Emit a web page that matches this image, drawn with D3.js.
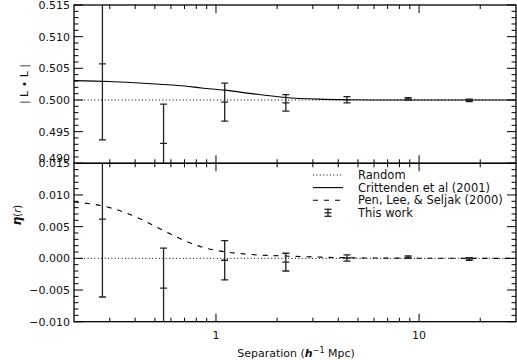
<!DOCTYPE html>
<html><head><meta charset="utf-8">
<script src="https://cdn.jsdelivr.net/npm/d3@7"></script>
<style>body{margin:0;background:#fff}svg{display:block}text{font-family:"DejaVu Sans",sans-serif;fill:#111}</style>
</head><body><svg id="c" width="517" height="360"></svg>
<script>
// data
const separation = [0.276, 0.552, 1.104, 2.208, 4.416, 8.832, 17.66];
const llValues = [0.50569, 0.49316, 0.49965, 0.49955, 0.50003, 0.50018, 0.49995];
const llErrors = [0.0120, 0.0062, 0.0030, 0.0013, 0.0005, 0.0002, 0.0002];
const etaValues = [0.0062, -0.0047, -0.0003, -0.0006, 0.00005, 0.0002, -0.0001];
const etaErrors = [0.0123, 0.0063, 0.0031, 0.0014, 0.0005, 0.0002, 0.0002];
const modelX = [0.2, 0.3, 0.4, 0.55, 0.7, 0.85, 1.1, 1.5, 2.2, 3.2, 4.4, 6, 10, 20, 30];
const crittendenLL = [0.50305, 0.50292, 0.50272, 0.50245, 0.5022, 0.5019, 0.50155, 0.5010, 0.5004, 0.50013, 0.50003, 0.5, 0.5, 0.5, 0.5];
const penEta = [0.0089, 0.0080, 0.0066, 0.0044, 0.0028, 0.0018, 0.00104, 0.0006, 0.00036, 0.0002, 0.0001, 0.00005, 0.00002, 0.0, 0.0];
const llTicks = [0.490, 0.495, 0.500, 0.505, 0.510, 0.515];
const etaTicks = [-0.010, -0.005, 0.000, 0.005, 0.010, 0.015];
const xTickLabels = [1, 10];
const legendLabels = ["Random", "Crittenden et al (2001)", "Pen, Lee, & Seljak (2000)", "This work"];

const svg = d3.select("#c");
const L = 74, R = 516, T1 = 5, B1 = 163.3, B2 = 321.7;
const x = d3.scaleLog().domain([0.2, 30]).range([L, R]);
const y1 = d3.scaleLinear().domain([0.490, 0.515]).range([B1, T1]);
const y2 = d3.scaleLinear().domain([-0.010, 0.015]).range([B2, B1]);

const defs = svg.append("defs");
defs.append("clipPath").attr("id","cp1").append("rect").attr("x",L).attr("y",T1).attr("width",R-L).attr("height",B1-T1);
defs.append("clipPath").attr("id","cp2").append("rect").attr("x",L).attr("y",B1).attr("width",R-L).attr("height",B2-B1);

const minorX = [];
[0.1,1,10].forEach(d=>{for(let k=2;k<=9;k++){const v=d*k; if(v>0.2&&v<30) minorX.push(v);}});

function panel(y, top, bottom, ticks, clipId, vals, errs, modelY, modelDash, refVal, labelFmt, bottomLabelShift) {
  const g = svg.append("g");
  g.append("rect").attr("x",L).attr("y",top).attr("width",R-L).attr("height",bottom-top)
    .attr("fill","none").attr("stroke","#000").attr("stroke-width",1.3);
  const d0 = y.domain();
  const minorY = d3.range(0, 26).map(i => d0[0] + i*0.001);
  minorY.forEach(v => {
    const yy = y(v);
    const isMajor = ticks.some(t => Math.abs(t - v) < 1e-6);
    const len = isMajor ? 9 : 4.5;
    g.append("line").attr("x1",L).attr("x2",L+len).attr("y1",yy).attr("y2",yy).attr("stroke","#000").attr("stroke-width",1);
    g.append("line").attr("x1",R).attr("x2",R-len).attr("y1",yy).attr("y2",yy).attr("stroke","#000").attr("stroke-width",1);
  });
  ticks.forEach((t,i) => {
    const shift = (i === 0) ? bottomLabelShift : 0;
    g.append("text").attr("x",L-4).attr("y",y(t)+4+shift).attr("text-anchor","end").attr("font-size",11)
      .text(labelFmt(t));
  });
  xTickLabels.concat(minorX).forEach(v => {
    const len = xTickLabels.includes(v) ? 8 : 4;
    g.append("line").attr("x1",x(v)).attr("x2",x(v)).attr("y1",top).attr("y2",top+len).attr("stroke","#000").attr("stroke-width",1);
    g.append("line").attr("x1",x(v)).attr("x2",x(v)).attr("y1",bottom).attr("y2",bottom-len).attr("stroke","#000").attr("stroke-width",1);
  });
  const c = g.append("g").attr("clip-path",`url(#${clipId})`);
  c.append("line").attr("x1",L).attr("x2",R).attr("y1",y(refVal)).attr("y2",y(refVal))
    .attr("stroke","#000").attr("stroke-width",1).attr("stroke-dasharray","1,2.4");
  const line = d3.line().x((d,i)=>x(modelX[i])).y(d=>y(d)).curve(d3.curveMonotoneX);
  c.append("path").attr("d",line(modelY)).attr("fill","none").attr("stroke","#000").attr("stroke-width",1.1)
    .attr("stroke-dasharray",modelDash);
  separation.forEach((s,i) => {
    const xx = x(s), yv = y(vals[i]), yl = y(vals[i]-errs[i]), yh = y(vals[i]+errs[i]);
    c.append("line").attr("x1",xx).attr("x2",xx).attr("y1",yl).attr("y2",yh).attr("stroke","#222").attr("stroke-width",1.3);
    [yl, yh, yv].forEach(yy => c.append("line").attr("x1",xx-3.5).attr("x2",xx+3.5).attr("y1",yy).attr("y2",yy)
      .attr("stroke","#222").attr("stroke-width",1.3));
  });
}

panel(y1, T1, B1, llTicks, "cp1", llValues, llErrors, crittendenLL, null, 0.5, d => d3.format(".3f")(d), -5);
panel(y2, B1, B2, etaTicks, "cp2", etaValues, etaErrors, penEta, "5,6", 0, d => d3.format(".3f")(d).replace("-", "\u2212"), 0);

xTickLabels.forEach(v => svg.append("text").attr("x",x(v)).attr("y",339).attr("text-anchor","middle").attr("font-size",11).text(v));
const xt = svg.append("text").attr("x",296).attr("y",357).attr("text-anchor","middle").attr("font-size",11);
xt.append("tspan").text("Separation (");
xt.append("tspan").attr("font-style","italic").attr("font-weight","bold").text("h");
xt.append("tspan").attr("font-size",8).attr("dy",-4).text("\u22121");
xt.append("tspan").attr("dy",4).text(" Mpc)");

svg.append("text").attr("transform","translate(28,84) rotate(-90)").attr("text-anchor","middle").attr("font-size",11).text("| L \u2022 L |");
const yt2 = svg.append("text").attr("transform","translate(21,215) rotate(-90)").attr("text-anchor","middle").attr("font-size",12);
yt2.append("tspan").attr("font-style","italic").attr("font-weight","bold").text("\u03b7");
yt2.append("tspan").attr("font-size",10).text("(");
yt2.append("tspan").attr("font-size",10).attr("font-style","italic").text("r");
yt2.append("tspan").attr("font-size",10).text(")");

const lg = svg.append("g");
const lx1 = 313, lx2 = 343, tx = 358, ly0 = 175, dy = 12.6;
legendLabels.forEach((lab,i) => {
  const yy = ly0 + i*dy;
  lg.append("text").attr("x",tx).attr("y",yy+4).attr("font-size",11.5).text(lab);
  if (i === 0) lg.append("line").attr("x1",lx1).attr("x2",lx2).attr("y1",yy).attr("y2",yy).attr("stroke","#000").attr("stroke-width",1).attr("stroke-dasharray","1,2.4");
  if (i === 1) lg.append("line").attr("x1",lx1).attr("x2",lx2).attr("y1",yy).attr("y2",yy).attr("stroke","#000").attr("stroke-width",1.1);
  if (i === 2) lg.append("line").attr("x1",lx1).attr("x2",lx2).attr("y1",yy).attr("y2",yy).attr("stroke","#000").attr("stroke-width",1.1).attr("stroke-dasharray","5,6");
  if (i === 3) {
    const cx = 328;
    lg.append("line").attr("x1",cx).attr("x2",cx).attr("y1",yy-3.5).attr("y2",yy+3.5).attr("stroke","#222").attr("stroke-width",1.3);
    [yy-3.5, yy, yy+3.5].forEach(q => lg.append("line").attr("x1",cx-3.5).attr("x2",cx+3.5).attr("y1",q).attr("y2",q).attr("stroke","#222").attr("stroke-width",1.3));
  }
});
</script></body></html>
